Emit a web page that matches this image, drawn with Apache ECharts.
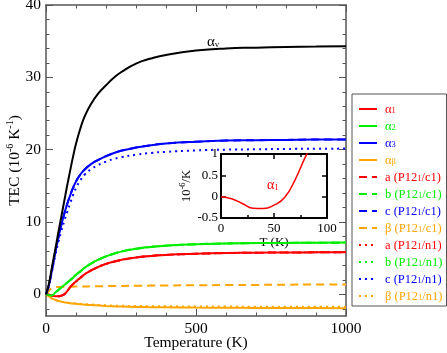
<!DOCTYPE html>
<html>
<head>
<meta charset="utf-8">
<script src="https://cdn.jsdelivr.net/npm/echarts@6/dist/echarts.min.js"></script>
<style>
    html, body { margin: 0; padding: 0; background: #fff; }
    #chart { width: 447px; height: 353px; }
</style>
</head>
<body>
<div id="chart"></div>
<script>
    const tempK = [0, 10, 20, 30, 40, 50, 60, 70, 80, 90, 100, 115, 130, 150, 175, 200, 225, 250, 300, 350, 400, 500, 600, 700, 800, 900, 1000];

    // TEC values (10^-6 K^-1)
    const alphaV = [0, 1.5, 3.8, 6, 8.3, 10.5, 12.7, 14.9, 17, 19, 20.8, 23, 24.7, 26.3, 27.8, 28.9, 29.9, 30.7, 31.9, 32.6, 33.1, 33.7, 34, 34.1, 34.2, 34.25, 34.3];
    const alpha1 = [0, -0.05, -0.16, -0.27, -0.28, -0.2, -0.02, 0.4, 0.95, 1.4, 1.78, 2.3, 2.8, 3.3, 3.8, 4.2, 4.5, 4.75, 5.1, 5.3, 5.45, 5.6, 5.7, 5.75, 5.78, 5.8, 5.82];
    const alpha2 = [0, -0.1, -0.15, 0.2, 0.55, 0.9, 1.25, 1.6, 1.95, 2.3, 2.7, 3.2, 3.7, 4.25, 4.8, 5.25, 5.6, 5.9, 6.3, 6.55, 6.72, 6.92, 7.02, 7.08, 7.11, 7.13, 7.15];
    const alpha3 = [0, 1.3, 3.4, 5.6, 7.6, 9.4, 11, 12.4, 13.6, 14.7, 15.6, 16.6, 17.3, 18.0, 18.6, 19.1, 19.5, 19.85, 20.3, 20.6, 20.85, 21.1, 21.25, 21.3, 21.35, 21.4, 21.4];
    const alphaB = [0, -0.3, -0.55, -0.75, -0.9, -1.0, -1.1, -1.17, -1.23, -1.28, -1.32, -1.38, -1.43, -1.49, -1.55, -1.61, -1.66, -1.7, -1.75, -1.78, -1.8, -1.84, -1.86, -1.88, -1.9, -1.91, -1.92];
    // P12_1/c1 (dashed) - a, b, c lie on top of the solid curves
    const aC1 = alpha1;
    const bC1 = alpha2;
    const cC1 = alpha3;
    const betaC1 = [0, 0.5, 0.85, 0.98, 1.0, 1.02, 1.03, 1.04, 1.05, 1.06, 1.07, 1.08, 1.09, 1.1, 1.12, 1.13, 1.15, 1.16, 1.18, 1.2, 1.22, 1.25, 1.28, 1.3, 1.33, 1.35, 1.37];
    // P12_1/n1 (dotted)
    const aN1 = alpha1;
    const bN1 = alpha2;
    const cN1 = [0, 1.2, 3.2, 5.2, 7, 8.6, 10, 11.3, 12.5, 13.7, 14.7, 15.8, 16.6, 17.3, 17.9, 18.35, 18.7, 18.95, 19.3, 19.55, 19.7, 19.9, 20.0, 20.05, 20.1, 20.12, 20.15];
    const betaN1 = [0, -0.35, -0.6, -0.78, -0.9, -1.0, -1.08, -1.14, -1.19, -1.23, -1.27, -1.32, -1.36, -1.41, -1.47, -1.52, -1.56, -1.59, -1.62, -1.64, -1.66, -1.68, -1.7, -1.71, -1.72, -1.73, -1.74];

    // axis ticks
    const yMajorTicks = [0, 10, 20, 30, 40];
    const yMinorTicks = [-2, 2, 4, 6, 8, 12, 14, 16, 18, 22, 24, 26, 28, 32, 34, 36, 38];

    const FONT = 'Liberation Serif';
    const RED = '#ff0000', GREEN = '#00ee00', BLUE = '#0000ff', ORANGE = '#ffa500';

    function pairs(vals) {
        return tempK.map((t, i) => [t, vals[i]]);
    }

    // legend entries: series name -> rich label
    const legendLabels = {
        'α1': '{t|α}{s|1}',
        'α2': '{t|α}{s|2}',
        'α3': '{t|α}{s|3}',
        'αβ': '{t|α}{s|β}',
        'a c1': '{t|a (P12}{s|1}{t|/c1)}',
        'b c1': '{t|b (P12}{s|1}{t|/c1)}',
        'c c1': '{t|c (P12}{s|1}{t|/c1)}',
        'β c1': '{t|β (P12}{s|1}{t|/c1)}',
        'a n1': '{t|a (P12}{s|1}{t|/n1)}',
        'b n1': '{t|b (P12}{s|1}{t|/n1)}',
        'c n1': '{t|c (P12}{s|1}{t|/n1)}',
        'β n1': '{t|β (P12}{s|1}{t|/n1)}'
    };
    const legendColors = [RED, GREEN, BLUE, ORANGE, RED, GREEN, BLUE, ORANGE, RED, GREEN, BLUE, ORANGE];
    const legendNames = Object.keys(legendLabels);

    const DASH = [8, 5];
    const DOT = [2, 4];

    function lineSeries(name, vals, color, type, extra) {
        return Object.assign({
            name: name,
            type: 'line',
            data: pairs(vals),
            symbol: 'none',
            smooth: 0.5,
            lineStyle: { color: color, width: 2, type: type },
            itemStyle: { color: color },
            xAxisIndex: 0,
            yAxisIndex: 0
        }, extra || {});
    }

    const chart = echarts.init(document.getElementById('chart'));

    const frameLine = { show: true, onZero: false, lineStyle: { color: '#555', width: 1.5 } };
    const insetLine = { show: true, onZero: false, lineStyle: { color: '#000', width: 2 } };
    const plainNum = v => String(v);

    const option = {
        animation: false,
        backgroundColor: '#fff',
        textStyle: { fontFamily: FONT },
        grid: [
            { left: 46, top: 5, right: 101, bottom: 37, containLabel: false, outerBoundsMode: 'none' },
            { left: 221, top: 154, width: 106, height: 64, containLabel: false, outerBoundsMode: 'none',
              show: true, backgroundColor: '#fff', borderWidth: 0 }
        ],
        legend: {
            orient: 'vertical',
            left: 352,
            top: 94,
            padding: [4, 4, 3, 6],
            itemWidth: 18,
            itemHeight: 10,
            itemGap: -1,
            borderColor: '#555',
            borderWidth: 1,
            selectedMode: false,
            itemStyle: { opacity: 0 },
            data: legendNames.map((n, i) => ({ name: n, textStyle: { color: legendColors[i] } })),
            formatter: name => legendLabels[name],
            textStyle: {
                fontFamily: FONT,
                padding: [0, 0, 0, 3],
                rich: {
                    t: { fontFamily: FONT, fontSize: 12.5, lineHeight: 12, verticalAlign: 'top' },
                    s: { fontFamily: FONT, fontSize: 8.5, lineHeight: 7, verticalAlign: 'bottom', padding: [8, 0, 0, 0] }
                }
            }
        },
        xAxis: [
            {
                type: 'value', gridIndex: 0, position: 'bottom', min: 0, max: 1000, interval: 500,
                name: 'Temperature (K)', nameLocation: 'middle', nameGap: 19, nameMoveOverlap: false,
                nameTextStyle: { fontFamily: FONT, fontSize: 15.5, color: '#000' },
                axisLine: frameLine,
                axisTick: { inside: true, length: 7, lineStyle: { color: '#555' } },
                minorTick: { show: true, splitNumber: 5, length: 3.5, lineStyle: { color: '#555' } },
                axisLabel: { fontFamily: FONT, fontSize: 15.5, color: '#000', margin: 5, formatter: plainNum },
                splitLine: { show: false }
            },
            {
                type: 'value', gridIndex: 0, position: 'top', min: 0, max: 1000, interval: 500,
                axisLine: frameLine,
                axisTick: { inside: true, length: 7, lineStyle: { color: '#555' } },
                minorTick: { show: true, splitNumber: 5, length: 3.5, lineStyle: { color: '#555' } },
                axisLabel: { show: false },
                splitLine: { show: false }
            },
            // inset
            {
                type: 'value', gridIndex: 1, position: 'bottom', min: 0, max: 100, interval: 50,
                name: 'T (K)', nameLocation: 'middle', nameGap: 17,
                nameTextStyle: { fontFamily: FONT, fontSize: 13, color: '#000' },
                axisLine: insetLine,
                axisTick: { inside: true, length: 5, lineStyle: { color: '#000', width: 1.5 } },
                minorTick: { show: true, splitNumber: 2, length: 3, lineStyle: { color: '#000', width: 1.5 } },
                axisLabel: { fontFamily: FONT, fontSize: 13, color: '#000', margin: 4 },
                splitLine: { show: false }
            },
            {
                type: 'value', gridIndex: 1, position: 'top', min: 0, max: 100, interval: 50,
                axisLine: insetLine,
                axisTick: { inside: true, length: 5, lineStyle: { color: '#000', width: 1.5 } },
                minorTick: { show: true, splitNumber: 2, length: 3, lineStyle: { color: '#000', width: 1.5 } },
                axisLabel: { show: false },
                splitLine: { show: false }
            }
        ],
        yAxis: [
            {
                type: 'value', gridIndex: 0, position: 'left', min: -3, max: 40,
                name: '{n|TEC (10}{p|-6}{n| K}{p|-1}{n|)}', nameLocation: 'middle', nameGap: 23, nameMoveOverlap: false,
                nameTextStyle: {
                    color: '#000',
                    rich: {
                        n: { fontFamily: FONT, fontSize: 15.5, lineHeight: 18, verticalAlign: 'bottom', color: '#000' },
                        p: { fontFamily: FONT, fontSize: 10, lineHeight: 10, verticalAlign: 'top', color: '#000' }
                    }
                },
                axisLine: frameLine,
                axisTick: { inside: true, length: 7, customValues: yMajorTicks, lineStyle: { color: '#555' } },
                axisLabel: { fontFamily: FONT, fontSize: 15.5, color: '#000', margin: 5, customValues: yMajorTicks },
                splitLine: { show: false }
            },
            {
                type: 'value', gridIndex: 0, position: 'left', min: -3, max: 40,
                axisLine: { show: false, onZero: false },
                axisTick: { inside: true, length: 3.5, customValues: yMinorTicks, lineStyle: { color: '#555' } },
                axisLabel: { show: false },
                splitLine: { show: false }
            },
            {
                type: 'value', gridIndex: 0, position: 'right', min: -3, max: 40,
                axisLine: frameLine,
                axisTick: { inside: true, length: 7, customValues: yMajorTicks, lineStyle: { color: '#555' } },
                axisLabel: { show: false },
                splitLine: { show: false }
            },
            {
                type: 'value', gridIndex: 0, position: 'right', min: -3, max: 40,
                axisLine: { show: false, onZero: false },
                axisTick: { inside: true, length: 3.5, customValues: yMinorTicks, lineStyle: { color: '#555' } },
                axisLabel: { show: false },
                splitLine: { show: false }
            },
            // inset
            {
                type: 'value', gridIndex: 1, position: 'left', min: -0.5, max: 1, interval: 0.5,
                name: '{n|10}{p|-6}{n|/K}', nameLocation: 'middle', nameGap: 18,
                nameTextStyle: {
                    color: '#000',
                    rich: {
                        n: { fontFamily: FONT, fontSize: 12.5, lineHeight: 15, verticalAlign: 'bottom', color: '#000' },
                        p: { fontFamily: FONT, fontSize: 8.5, lineHeight: 8, verticalAlign: 'top', color: '#000' }
                    }
                },
                axisLine: insetLine,
                axisTick: { inside: true, length: 5, lineStyle: { color: '#000', width: 1.5 } },
                axisLabel: { fontFamily: FONT, fontSize: 13, color: '#000', margin: 3 },
                splitLine: { show: false }
            },
            {
                type: 'value', gridIndex: 1, position: 'right', min: -0.5, max: 1, interval: 0.5,
                axisLine: insetLine,
                axisTick: { inside: true, length: 5, lineStyle: { color: '#000', width: 1.5 } },
                axisLabel: { show: false },
                splitLine: { show: false }
            }
        ],
        graphic: [
            {
                type: 'text', left: 207, top: 31, silent: true,
                style: {
                    text: '{t|α}{s|v}',
                    rich: {
                        t: { fontFamily: FONT, fontSize: 15, lineHeight: 14, verticalAlign: 'top', fill: '#000' },
                        s: { fontFamily: FONT, fontSize: 9, lineHeight: 9, verticalAlign: 'bottom', padding: [9, 0, 0, 0], fill: '#000' }
                    }
                }
            },
            {
                type: 'text', left: 267, top: 175, silent: true, z: 10,
                style: {
                    text: '{t|α}{s|1}',
                    rich: {
                        t: { fontFamily: FONT, fontSize: 14, lineHeight: 14, verticalAlign: 'top', fill: RED },
                        s: { fontFamily: FONT, fontSize: 9, lineHeight: 9, verticalAlign: 'bottom', padding: [8, 0, 0, 0], fill: RED }
                    }
                }
            }
        ],
        series: [
            // dashed / dotted duplicates drawn first so the solid curves sit on top
            lineSeries('a c1', aC1, RED, DASH),
            lineSeries('b c1', bC1, GREEN, DASH),
            lineSeries('c c1', cC1, BLUE, DASH),
            lineSeries('a n1', aN1, RED, DOT),
            lineSeries('b n1', bN1, GREEN, DOT),
            lineSeries('β c1', betaC1, ORANGE, DASH),
            lineSeries('β n1', betaN1, ORANGE, DOT),
            lineSeries('c n1', cN1, BLUE, DOT),
            lineSeries('αβ', alphaB, ORANGE, 'solid'),
            lineSeries('α1', alpha1, RED, 'solid'),
            lineSeries('α2', alpha2, GREEN, 'solid'),
            lineSeries('α3', alpha3, BLUE, 'solid'),
            lineSeries('αv', alphaV, '#000', 'solid'),
            // inset: alpha1 at low temperature
            lineSeries('α1 inset', alpha1, RED, 'solid', { xAxisIndex: 2, yAxisIndex: 4, lineStyle: { color: RED, width: 1.5 } })
        ]
    };

    chart.setOption(option);
</script>
</body>
</html>
